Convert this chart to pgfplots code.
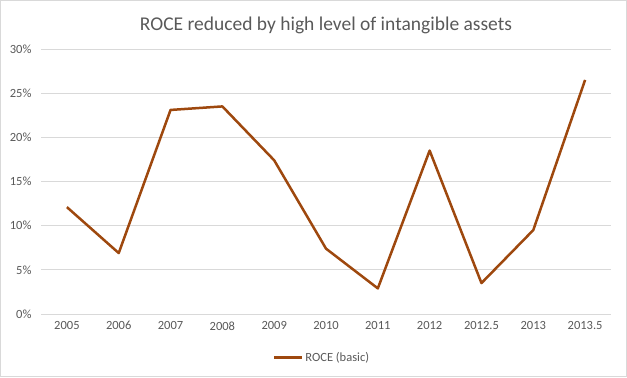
\documentclass[border=0pt]{standalone}
\usepackage{pgfplots}
\pgfplotsset{compat=1.18}
\usepackage{fontspec}
\setmainfont{Carlito}
\definecolor{linec}{HTML}{9E480E}
\definecolor{gridc}{HTML}{D9D9D9}
\definecolor{textc}{HTML}{595959}
\begin{document}
\begin{tikzpicture}[x=1bp,y=1bp]
\draw[gridc, line width=1bp] (0.5,0.5) rectangle (626.5,376.5);
\begin{axis}[
  at={(41bp,63bp)}, anchor=south west,
  scale only axis, width=570bp, height=265bp,
  xmin=-0.5, xmax=10.5, ymin=0, ymax=30,
  xtick={0,...,10},
  xticklabels={2005,2006,2007,2008,2009,2010,2011,2012,2012.5,2013,2013.5},
  ytick={0,5,...,30},
  yticklabel={\pgfmathprintnumber{\tick}\%},
  /pgf/number format/assume math mode=true,
  ymajorgrids, major grid style={gridc, line width=0.75bp},
  axis line style={draw=none},
  tick style={draw=none},
  ticklabel style={font=\fontsize{12.5bp}{14bp}\selectfont, text=textc},
  yticklabel style={xshift=-6bp},
  xticklabel style={yshift=-4bp},
  title={ROCE reduced by high level of intangible assets},
  title style={font=\fontsize{19.5bp}{22bp}\selectfont, text=textc, yshift=6bp},
  legend style={at={(0.5,-0.135)}, anchor=north, xshift=-4bp, draw=none, font=\fontsize{12.5bp}{14bp}\selectfont, text=textc, legend columns=1, inner sep=0pt},
  legend cell align=left,
  legend image code/.code={\draw[#1, line width=2.5bp] (0bp,0bp) -- (28bp,0bp);},
  clip=false,
]
\addplot[draw=gridc, line width=0.75bp, forget plot] coordinates {(-0.5,0) (10.5,0)};
\addplot[linec, line width=2.5bp, line join=round] coordinates {
(0,12.1) (1,6.9) (2,23.1) (3,23.5) (4,17.4) (5,7.4) (6,2.9) (7,18.5) (8,3.5) (9,9.5) (10,26.5)};
\addlegendentry[xshift=-7bp]{ROCE (basic)}
\end{axis}
\end{tikzpicture}
\end{document}
